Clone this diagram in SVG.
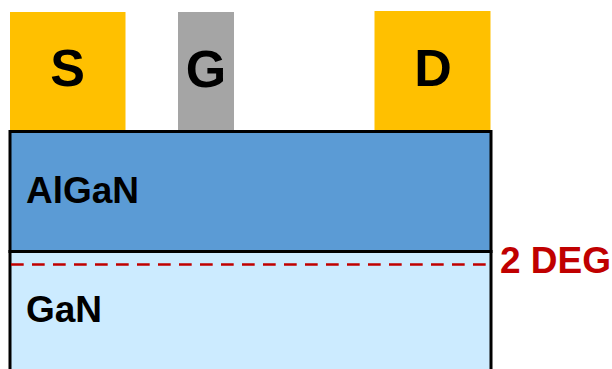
<svg xmlns="http://www.w3.org/2000/svg" width="612" height="369" viewBox="0 0 612 369">
  <style>
    .lbl { font-family: "Liberation Sans", Arial, sans-serif; font-weight: bold; fill: #000; }
    .term { font-size: 52px; text-anchor: middle; }
    .layer { font-size: 37px; }
    .contact { fill: #FFC000; }
    .edge { stroke: #000; stroke-width: 3; }
  </style>
  <rect width="612" height="369" fill="#fff"/>

  <!-- Contacts -->
  <g id="source">
    <rect class="contact" x="10" y="12" width="115.5" height="119"/>
    <text class="lbl term" x="67.5" y="86">S</text>
  </g>
  <g id="gate">
    <rect x="178" y="12" width="56" height="119" fill="#A5A5A5"/>
    <text class="lbl term" x="206" y="87">G</text>
  </g>
  <g id="drain">
    <rect class="contact" x="374.5" y="11" width="116" height="120"/>
    <text class="lbl term" x="433" y="86">D</text>
  </g>

  <!-- Semiconductor layers -->
  <g id="gan">
    <rect x="10" y="251.5" width="481" height="130" fill="#CCEBFF" class="edge"/>
    <text class="lbl layer" x="26" y="322">GaN</text>
  </g>
  <g id="algan">
    <rect x="10" y="131.5" width="481" height="120" fill="#5B9BD5" class="edge"/>
    <text class="lbl layer" x="26" y="203">AlGaN</text>
  </g>

  <!-- Two-dimensional electron gas -->
  <g id="connectors">
    <line x1="11" y1="264.5" x2="489" y2="264.5" stroke="#C00000" stroke-width="2.5" stroke-dasharray="12.7 8.3"/>
  </g>
  <g id="deg-label">
    <text class="lbl" x="500" y="272.5" font-size="37" style="fill:#C00000">2 DEG</text>
  </g>
</svg>
